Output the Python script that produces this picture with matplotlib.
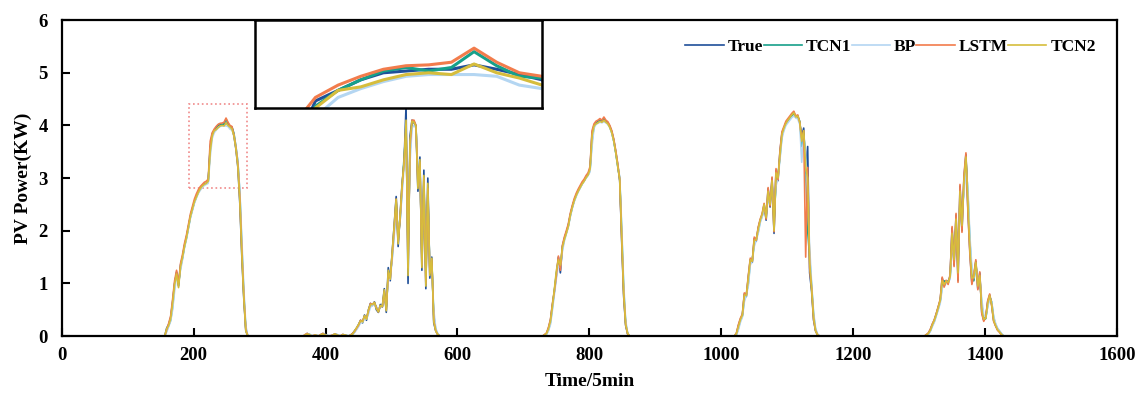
import numpy as np
import matplotlib
matplotlib.use("Agg")
import matplotlib.pyplot as plt
from matplotlib.patches import Rectangle

plt.rcParams['font.family'] = ['Liberation Serif', 'DejaVu Serif']
plt.rcParams['font.weight'] = 'bold'

# start index of each daylight segment (5-min steps), samples every 3 steps
day_start = [156, 366, 729, 1020, 1305]
step = 3

true_days = [
    [0.0, 0.15, 0.22, 0.35, 0.65, 1.0, 1.2, 0.95, 1.35, 1.5, 1.72, 1.88, 2.08, 2.28, 2.42,
     2.55, 2.65, 2.74, 2.8, 2.85, 2.88, 2.9, 2.95, 3.55, 3.84, 3.9, 3.96, 4.0, 4.01, 4.02,
     4.02, 4.045, 4.02, 3.99, 3.96, 3.8, 3.55, 3.2, 2.5, 1.5, 0.7, 0.1, 0.0],
    [0.0, 0.02, 0.05, 0.03, 0.0, 0.0, 0.02, 0.0, 0.0, 0.03, 0.05, 0.02, 0.0, 0.0, 0.0,
     0.02, 0.04, 0.02, 0.0, 0.0, 0.03, 0.02, 0.0, 0.0, 0.02,
     0.05, 0.1, 0.15, 0.22, 0.3, 0.25, 0.4, 0.3, 0.5, 0.62, 0.58, 0.65, 0.5, 0.45, 0.6,
     0.55, 0.9, 0.45, 1.3, 1.05, 1.6, 2.1, 2.65, 1.7, 2.3, 2.9, 3.3, 4.38, 1.0, 3.8,
     4.1, 4.05, 3.98, 2.75, 3.4, 1.25, 3.15, 0.9, 3.0, 1.1, 1.5, 0.25, 0.1, 0.03, 0.0],
    [0.0, 0.02, 0.05, 0.15, 0.3, 0.6, 0.85, 1.15, 1.5, 1.2, 1.7, 1.85, 1.97, 2.1, 2.3,
     2.45, 2.58, 2.68, 2.76, 2.83, 2.9, 2.95, 3.02, 3.07, 3.18, 3.85, 4.0, 4.05, 4.07, 4.1,
     4.08, 4.13, 4.08, 4.05, 3.98, 3.88, 3.72, 3.5, 3.25, 2.95, 1.8, 0.75, 0.2, 0.04, 0.0],
    [0.0, 0.05, 0.2, 0.32, 0.4, 0.8, 0.75, 1.12, 1.45, 1.4, 1.85, 1.8, 2.05, 2.2, 2.3,
     2.5, 2.2, 2.8, 2.45, 3.0, 1.95, 3.15, 2.95, 3.5, 3.85, 3.95, 4.05, 4.1, 4.15, 4.2,
     4.25, 4.15, 4.18, 4.05, 3.8, 3.95, 3.1, 3.6, 1.2, 0.85, 0.3, 0.1, 0.02, 0.0, 0.0],
    [0.0, 0.0, 0.02, 0.05, 0.12, 0.22, 0.3, 0.42, 0.55, 0.68, 1.1, 0.95, 1.05, 1.0, 1.15,
     2.05, 1.35, 2.3, 1.05, 2.85, 2.0, 3.0, 3.45, 2.4, 1.6, 1.0, 1.15, 1.42, 0.9, 1.2,
     0.45, 0.3, 0.35, 0.65, 0.78, 0.6, 0.3, 0.2, 0.12, 0.08, 0.03, 0.0, 0.0, 0.0],
]

tcn1_days = [
    [0.0, 0.1, 0.2, 0.3, 0.55, 0.95, 1.22, 1.0, 1.3, 1.48, 1.7, 1.86, 2.06, 2.26, 2.4,
     2.54, 2.64, 2.73, 2.79, 2.84, 2.88, 2.9, 2.93, 3.6, 3.81, 3.9, 3.96, 4.01, 4.03, 4.01,
     4.03, 4.12, 4.04, 3.98, 3.97, 3.85, 3.6, 3.3, 2.7, 1.7, 0.8, 0.15, 0.0],
    [0.0, 0.01, 0.03, 0.04, 0.01, 0.0, 0.01, 0.01, 0.0, 0.02, 0.04, 0.03, 0.01, 0.0, 0.0,
     0.01, 0.03, 0.03, 0.01, 0.0, 0.02, 0.02, 0.01, 0.0, 0.01,
     0.04, 0.08, 0.14, 0.2, 0.28, 0.27, 0.36, 0.33, 0.46, 0.6, 0.6, 0.63, 0.55, 0.47, 0.56,
     0.57, 0.8, 0.55, 1.15, 1.15, 1.5, 2.0, 2.55, 1.9, 2.2, 2.8, 3.4, 3.9, 1.6, 3.5,
     4.05, 4.08, 4.0, 3.0, 3.25, 1.5, 2.9, 1.2, 2.7, 1.3, 1.4, 0.4, 0.12, 0.04, 0.0],
    [0.0, 0.01, 0.04, 0.12, 0.26, 0.55, 0.88, 1.2, 1.42, 1.3, 1.65, 1.84, 1.96, 2.09, 2.28,
     2.44, 2.57, 2.67, 2.75, 2.82, 2.89, 2.95, 3.01, 3.06, 3.15, 3.7, 3.98, 4.04, 4.06, 4.08,
     4.07, 4.1, 4.07, 4.03, 3.97, 3.86, 3.7, 3.48, 3.22, 3.0, 2.0, 0.9, 0.25, 0.05, 0.0],
    [0.0, 0.03, 0.15, 0.3, 0.38, 0.7, 0.8, 1.0, 1.4, 1.45, 1.75, 1.85, 1.98, 2.18, 2.28,
     2.45, 2.3, 2.65, 2.55, 2.9, 2.2, 2.9, 3.05, 3.4, 3.8, 3.93, 4.03, 4.08, 4.13, 4.18,
     4.22, 4.17, 4.16, 4.08, 3.6, 3.85, 3.3, 2.0, 1.5, 0.95, 0.4, 0.12, 0.03, 0.0, 0.0],
    [0.0, 0.0, 0.01, 0.04, 0.1, 0.2, 0.28, 0.4, 0.52, 0.66, 0.95, 1.05, 1.0, 1.05, 1.1,
     1.8, 1.6, 2.1, 1.4, 2.6, 2.3, 2.8, 3.35, 2.7, 1.8, 1.2, 1.05, 1.35, 1.05, 1.1,
     0.6, 0.35, 0.33, 0.58, 0.75, 0.65, 0.35, 0.22, 0.14, 0.09, 0.04, 0.0, 0.0, 0.0],
]

bp_days = [
    [0.0, 0.08, 0.18, 0.28, 0.5, 0.85, 1.15, 1.05, 1.25, 1.45, 1.68, 1.84, 2.04, 2.24, 2.38,
     2.52, 2.62, 2.71, 2.77, 2.82, 2.86, 2.88, 2.9, 3.4, 3.75, 3.86, 3.91, 3.95, 3.98, 3.99,
     3.99, 3.99, 3.98, 3.93, 3.91, 3.82, 3.6, 3.3, 2.75, 1.8, 0.9, 0.2, 0.0],
    [0.0, 0.02, 0.04, 0.04, 0.02, 0.01, 0.02, 0.01, 0.01, 0.02, 0.04, 0.03, 0.02, 0.01, 0.01,
     0.02, 0.03, 0.03, 0.02, 0.01, 0.02, 0.02, 0.01, 0.01, 0.02,
     0.03, 0.07, 0.12, 0.18, 0.25, 0.26, 0.33, 0.32, 0.42, 0.55, 0.58, 0.6, 0.55, 0.5, 0.55,
     0.56, 0.75, 0.6, 1.05, 1.1, 1.45, 1.9, 2.4, 2.0, 2.2, 2.7, 3.2, 3.7, 1.9, 3.3,
     3.95, 4.0, 3.95, 3.1, 3.2, 1.7, 2.7, 1.4, 2.5, 1.4, 1.3, 0.5, 0.15, 0.05, 0.0],
    [0.0, 0.01, 0.03, 0.1, 0.22, 0.5, 0.8, 1.1, 1.35, 1.3, 1.6, 1.8, 1.94, 2.07, 2.26,
     2.42, 2.55, 2.65, 2.74, 2.81, 2.88, 2.94, 3.0, 3.05, 3.12, 3.6, 3.95, 4.02, 4.04, 4.06,
     4.05, 4.07, 4.05, 4.02, 3.96, 3.85, 3.7, 3.5, 3.25, 3.02, 2.1, 1.0, 0.3, 0.06, 0.0],
    [0.0, 0.02, 0.12, 0.26, 0.36, 0.65, 0.78, 0.95, 1.35, 1.42, 1.7, 1.82, 1.95, 2.15, 2.26,
     2.42, 2.32, 2.6, 2.55, 2.85, 2.3, 2.85, 3.0, 3.35, 3.75, 3.9, 4.0, 4.05, 4.1, 4.15,
     4.18, 4.15, 4.12, 4.02, 3.3, 3.8, 3.4, 2.6, 1.7, 1.0, 0.45, 0.15, 0.04, 0.0, 0.0],
    [0.0, 0.0, 0.01, 0.03, 0.09, 0.18, 0.26, 0.38, 0.5, 0.62, 0.9, 1.0, 1.0, 1.02, 1.08,
     1.7, 1.55, 2.0, 1.5, 2.45, 2.3, 2.7, 3.2, 2.8, 1.9, 1.3, 1.1, 1.3, 1.1, 1.1,
     0.7, 0.4, 0.35, 0.55, 0.72, 0.65, 0.38, 0.24, 0.15, 0.1, 0.05, 0.0, 0.0, 0.0],
]

lstm_days = [
    [0.0, 0.12, 0.24, 0.38, 0.7, 1.05, 1.25, 1.0, 1.38, 1.55, 1.76, 1.92, 2.12, 2.32, 2.46,
     2.6, 2.7, 2.78, 2.84, 2.88, 2.92, 2.94, 2.98, 3.7, 3.86, 3.93, 3.98, 4.02, 4.04, 4.045,
     4.06, 4.14, 4.06, 4.0, 3.98, 3.82, 3.58, 3.25, 2.6, 1.6, 0.75, 0.12, 0.0],
    [0.0, 0.03, 0.05, 0.02, 0.0, 0.01, 0.02, 0.0, 0.01, 0.03, 0.05, 0.02, 0.0, 0.0, 0.01,
     0.02, 0.04, 0.02, 0.0, 0.01, 0.03, 0.02, 0.0, 0.0, 0.02,
     0.05, 0.09, 0.15, 0.21, 0.3, 0.28, 0.38, 0.34, 0.48, 0.62, 0.6, 0.64, 0.54, 0.46, 0.58,
     0.56, 0.85, 0.5, 1.2, 1.1, 1.55, 2.05, 2.6, 1.8, 2.25, 2.85, 3.3, 4.0, 1.3, 3.6,
     4.1, 4.1, 4.0, 2.85, 3.3, 1.35, 3.0, 1.0, 2.8, 1.2, 1.45, 0.3, 0.1, 0.03, 0.0],
    [0.0, 0.03, 0.06, 0.17, 0.32, 0.62, 0.87, 1.17, 1.52, 1.25, 1.72, 1.88, 2.0, 2.13, 2.33,
     2.48, 2.61, 2.71, 2.79, 2.86, 2.93, 2.98, 3.05, 3.1, 3.22, 3.9, 4.03, 4.08, 4.1, 4.13,
     4.1, 4.16, 4.1, 4.07, 4.0, 3.9, 3.74, 3.52, 3.27, 2.97, 1.85, 0.8, 0.22, 0.04, 0.0],
    [0.0, 0.06, 0.22, 0.34, 0.42, 0.82, 0.78, 1.15, 1.48, 1.42, 1.88, 1.82, 2.07, 2.22, 2.33,
     2.52, 2.22, 2.82, 2.47, 3.02, 1.98, 3.18, 2.97, 3.52, 3.88, 3.98, 4.08, 4.13, 4.18, 4.23,
     4.27, 4.18, 4.2, 4.06, 3.75, 3.9, 1.5, 3.2, 1.3, 0.9, 0.32, 0.1, 0.02, 0.0, 0.0],
    [0.0, 0.0, 0.03, 0.06, 0.13, 0.23, 0.31, 0.43, 0.56, 0.7, 1.12, 0.93, 1.06, 0.98, 1.17,
     2.08, 1.32, 2.33, 1.02, 2.88, 1.97, 3.05, 3.48, 2.35, 1.55, 0.98, 1.17, 1.45, 0.88, 1.22,
     0.43, 0.28, 0.36, 0.67, 0.8, 0.58, 0.28, 0.19, 0.11, 0.07, 0.02, 0.0, 0.0, 0.0],
]

tcn2_days = [
    [0.0, 0.14, 0.2, 0.33, 0.62, 0.98, 1.18, 0.92, 1.32, 1.5, 1.7, 1.87, 2.07, 2.27, 2.41,
     2.55, 2.64, 2.73, 2.8, 2.85, 2.88, 2.9, 2.94, 3.5, 3.8, 3.9, 3.92, 3.96, 3.99, 4.0,
     3.99, 4.05, 4.0, 3.97, 3.93, 3.8, 3.56, 3.22, 2.55, 1.55, 0.72, 0.1, 0.0],
    [0.0, 0.02, 0.04, 0.03, 0.01, 0.0, 0.02, 0.01, 0.0, 0.03, 0.04, 0.02, 0.01, 0.0, 0.0,
     0.02, 0.04, 0.02, 0.01, 0.0, 0.03, 0.02, 0.01, 0.0, 0.02,
     0.04, 0.1, 0.16, 0.22, 0.29, 0.27, 0.39, 0.32, 0.5, 0.6, 0.6, 0.64, 0.52, 0.46, 0.58,
     0.56, 0.88, 0.48, 1.25, 1.08, 1.58, 2.08, 2.6, 1.75, 2.28, 2.88, 3.3, 4.1, 1.15, 3.7,
     4.08, 4.06, 3.98, 2.8, 3.35, 1.3, 3.05, 0.95, 2.9, 1.15, 1.48, 0.28, 0.1, 0.03, 0.0],
    [0.0, 0.02, 0.05, 0.14, 0.29, 0.58, 0.9, 1.25, 1.45, 1.35, 1.68, 1.83, 1.95, 2.08, 2.29,
     2.44, 2.57, 2.67, 2.75, 2.82, 2.89, 2.94, 3.01, 3.06, 3.17, 3.8, 3.99, 4.03, 4.05, 4.08,
     4.06, 4.1, 4.06, 4.03, 3.96, 3.86, 3.7, 3.48, 3.23, 2.97, 1.9, 0.82, 0.22, 0.05, 0.0],
    [0.0, 0.05, 0.18, 0.31, 0.4, 0.78, 0.77, 1.1, 1.45, 1.42, 1.82, 1.83, 2.03, 2.2, 2.31,
     2.5, 2.25, 2.75, 2.5, 2.95, 2.0, 3.1, 3.0, 3.45, 3.83, 3.95, 4.04, 4.1, 4.15, 4.2,
     4.24, 4.16, 4.18, 4.06, 3.7, 3.9, 3.2, 3.0, 1.4, 0.9, 0.35, 0.1, 0.02, 0.0, 0.0],
    [0.0, 0.0, 0.02, 0.05, 0.11, 0.21, 0.3, 0.41, 0.54, 0.68, 1.05, 0.98, 1.04, 1.02, 1.13,
     1.95, 1.45, 2.22, 1.2, 2.75, 2.1, 2.95, 3.4, 2.5, 1.65, 1.1, 1.12, 1.4, 0.95, 1.15,
     0.5, 0.32, 0.34, 0.62, 0.77, 0.6, 0.3, 0.2, 0.12, 0.08, 0.03, 0.0, 0.0, 0.0],
]

names = ['True', 'TCN1', 'BP', 'LSTM', 'TCN2']
colors = ['#1f4f99', '#16a08a', '#b4d6f2', '#f27c4c', '#d6bd3c']
series = [true_days, tcn1_days, bp_days, lstm_days, tcn2_days]


def join_days(days):
    xs, ys = [], []
    for s, vals in zip(day_start, days):
        xs.append(np.arange(len(vals)) * step + s)
        ys.append(np.array(vals))
    return np.concatenate(xs), np.concatenate(ys)


fig = plt.figure(figsize=(11.45, 3.94), dpi=100)
ax = fig.add_axes([0.054, 0.147, 0.9215, 0.802])

for name, c, days in zip(names, colors, series):
    x, y = join_days(days)
    ax.plot(x, y, color=c, lw=1.2, label=name)

ax.set_xlim(0, 1600)
ax.set_ylim(0, 6)
ax.set_xticks(range(0, 1601, 200))
ax.set_yticks(range(0, 7))
ax.tick_params(direction='in', length=6, width=1.5, labelsize=13.5)
ax.tick_params(axis='x', pad=8)
ax.tick_params(axis='y', pad=10)
for sp in ax.spines.values():
    sp.set_linewidth(1.6)
ax.set_xlabel('Time/5min', fontsize=14, fontweight='bold', labelpad=6)
ax.set_ylabel('PV Power(KW)', fontsize=14, fontweight='bold', labelpad=5)

ax.add_patch(Rectangle((193, 2.81), 88, 1.59, fill=False, edgecolor='#f08a8a',
                       linestyle=':', linewidth=1.2))

leg = ax.legend(loc='upper right', ncol=5, frameon=False,
                prop={'family': 'Liberation Serif', 'weight': 'bold', 'size': 12.5},
                handlelength=2.2, handletextpad=0.25, columnspacing=0.0,
                bbox_to_anchor=(0.995, 0.99))

# zoomed inset
axin = fig.add_axes([0.2227, 0.7259, 0.2507, 0.2234])
for name, c, days in zip(names, colors, series):
    x, y = join_days(days)
    axin.plot(x, y, color=c, lw=2.2)
axin.set_xlim(220, 258)
axin.set_ylim(3.80, 4.30)
axin.set_xticks([])
axin.set_yticks([])
for sp in axin.spines.values():
    sp.set_linewidth(1.8)

fig.savefig('out.png', dpi=100)
